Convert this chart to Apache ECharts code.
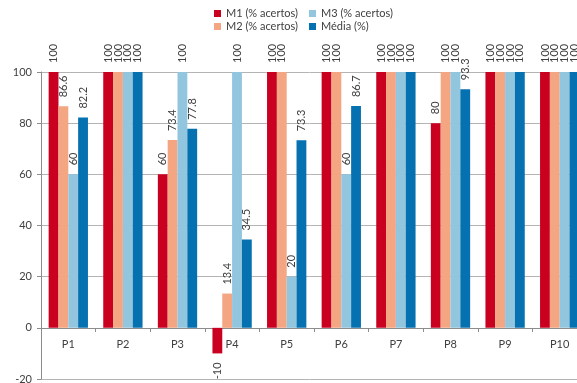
<!DOCTYPE html>
<html>
<head>
<meta charset="utf-8">
<script src="https://cdn.jsdelivr.net/npm/echarts@6/dist/echarts.min.js"></script>
<style>
html,body{margin:0;padding:0;background:#fff;}
#chart{width:577px;height:383px;}
</style>
</head>
<body>
<div id="chart"></div>
<script>
const categories = ['P1','P2','P3','P4','P5','P6','P7','P8','P9','P10'];
const seriesNames = ['M1 (% acertos)','M2 (% acertos)','M3 (% acertos)','Média (%)'];
const m1 = [100, 100, 60, -10, 100, 100, 100, 80, 100, 100];
const m2 = [86.6, 100, 73.4, 13.4, 100, 100, 100, 100, 100, 100];
const m3 = [60, 100, 100, 100, 20, 60, 100, 100, 100, 100];
const media = [82.2, 100, 77.8, 34.5, 73.3, 86.7, 100, 93.3, 100, 100];
const yTicks = [-20, 0, 20, 40, 60, 80, 100];

const colors = ['#ca0020','#f4a582','#92c5de','#0571b0'];
const FONT = 'Lato';
const TXT = '#404040';

const chart = echarts.init(document.getElementById('chart'), null, {renderer:'canvas'});

function mkData(arr){
  return arr.map(v => v < 0 ? {value: v, label: {position: 'bottom', align: 'right'}} : v);
}
function mkSeries(name, arr, color){
  return {
    name: name, type: 'bar', data: mkData(arr),
    barGap: '0%', barCategoryGap: '28%',
    itemStyle: {color: color},
    label: {
      show: true, position: 'top', rotate: 90, align: 'left', verticalAlign: 'middle',
      distance: 9, color: TXT, fontFamily: FONT, fontSize: 11
    },
    emphasis: {disabled: true}
  };
}

const option = {
  animation: false,
  color: colors,
  legend: [
    {data: [seriesNames[0], seriesNames[2]], left: 209, top: 3, itemWidth: 7, itemHeight: 7, itemGap: 11,
     icon: 'rect', textStyle: {color: TXT, fontFamily: FONT, fontSize: 11}},
    {data: [seriesNames[1], seriesNames[3]], left: 209, top: 16, itemWidth: 7, itemHeight: 7, itemGap: 11,
     icon: 'rect', textStyle: {color: TXT, fontFamily: FONT, fontSize: 11}}
  ],
  grid: {left: 41, width: 546, top: 72, height: 307, containLabel: false, outerBoundsMode: 'none'},
  xAxis: {
    type: 'category', data: categories, position: 'bottom', offset: -51,
    axisLine: {onZero: false, lineStyle: {color: '#8c8c8c', width: 1}},
    axisTick: {show: true, length: 4, lineStyle: {color: '#8c8c8c'}},
    axisLabel: {show: true, interval: 0, color: TXT, fontFamily: FONT, fontSize: 11, margin: 11}
  },
  yAxis: {
    type: 'value', min: yTicks[0], max: yTicks[yTicks.length-1], interval: 20,
    axisLine: {show: true, lineStyle: {color: '#8c8c8c'}},
    axisTick: {show: true, length: 4, lineStyle: {color: '#8c8c8c'}},
    axisLabel: {color: TXT, fontFamily: FONT, fontSize: 11, margin: 9},
    splitLine: {show: true, showMinLine: true, showMaxLine: true, lineStyle: {color: '#b4b4b4', width: 1}}
  },
  series: [
    mkSeries(seriesNames[0], m1, colors[0]),
    mkSeries(seriesNames[1], m2, colors[1]),
    mkSeries(seriesNames[2], m3, colors[2]),
    mkSeries(seriesNames[3], media, colors[3])
  ]
};
chart.setOption(option);
</script>
</body>
</html>
